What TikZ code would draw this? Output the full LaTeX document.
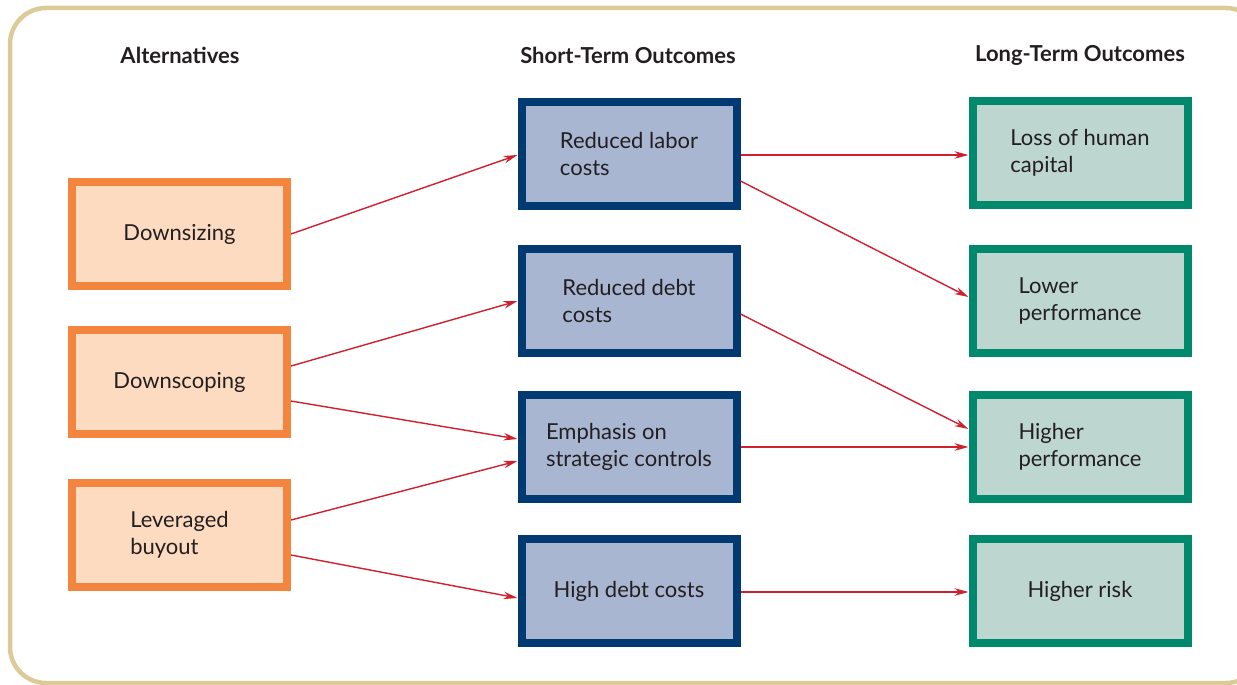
\documentclass[tikz,border=0pt]{standalone}
\usepackage{fontspec}
\setmainfont{Lato}
\usetikzlibrary{arrows.meta}
\definecolor{frame}{HTML}{DCCB98}
\definecolor{orgB}{HTML}{F4853F}
\definecolor{orgF}{HTML}{FDDBC1}
\definecolor{navB}{HTML}{003A70}
\definecolor{navF}{HTML}{A8B6D2}
\definecolor{grnB}{HTML}{00896C}
\definecolor{grnF}{HTML}{BDD6D0}
\definecolor{arr}{HTML}{D0202E}
\definecolor{txt}{HTML}{231F20}
\tikzset{
  box/.style={rectangle, line width=8pt, minimum width=215pt, minimum height=104pt, align=left,
    text=txt, font=\fontsize{22}{27}\selectfont, inner sep=0pt},
  altbox/.style={box, draw=orgB, fill=orgF},
  stbox/.style={box, draw=navB, fill=navF},
  ltbox/.style={box, draw=grnB, fill=grnF},
  head/.style={text=txt, font=\fontsize{22}{26}\selectfont\bfseries},
  link/.style={draw=arr, line width=1.4pt, -{Stealth[length=14pt,width=7.5pt]}}
}
\begin{document}
\begin{tikzpicture}[x=1pt,y=-1pt]
\useasboundingbox (0,0) rectangle (1237,685);
\draw[frame, line width=4.5pt, rounded corners=36pt] (10,8) rectangle (1262,683);
\node[head] (h1) at (180,55) {Alternatives};
\node[head] (h2) at (628,55) {Short-Term Outcomes};
\node[head] (h3) at (1080,55) {Long-Term Outcomes};
% alternatives
\node[altbox] (a1) at (179.5,234) {Downsizing};
\node[altbox] (a2) at (179.5,382) {Downscoping};
\node[altbox] (a3) at (179.5,535) {Leveraged\\buyout};
% short-term
\node[stbox] (s1) at (629,154) {Reduced labor\\costs};
\node[stbox] (s2) at (629,301) {Reduced debt\\costs};
\node[stbox] (s3) at (629,447) {Emphasis on\\strategic controls};
\node[stbox] (s4) at (629,591) {High debt costs};
% long-term
\node[ltbox] (l1) at (1080,153) {Loss of human\\capital};
\node[ltbox] (l2) at (1080,301) {Lower\\performance};
\node[ltbox] (l3) at (1080,447) {Higher\\performance};
\node[ltbox] (l4) at (1080,591) {Higher risk};
% connectors
\draw[link] (a1.east) -- ([yshift=-1pt]s1.west);
\draw[link] ([yshift=16pt]a2.east) -- (s2.west);
\draw[link] ([yshift=-19pt]a2.east) -- ([yshift=8pt]s3.west);
\draw[link] ([yshift=15pt]a3.east) -- ([yshift=-14pt]s3.west);
\draw[link] ([yshift=-20pt]a3.east) -- ([yshift=-7pt]s4.west);
\draw[link] ([yshift=-1pt]s1.east) -- ([yshift=-2pt]l1.west);
\draw[link] ([yshift=-27pt]s1.east) -- ([yshift=4pt]l2.west);
\draw[link] ([yshift=-13pt]s2.east) -- ([yshift=18pt]l3.west);
\draw[link] (s3.east) -- (l3.west);
\draw[link] ([yshift=-1pt]s4.east) -- ([yshift=-1pt]l4.west);
\end{tikzpicture}
\end{document}
